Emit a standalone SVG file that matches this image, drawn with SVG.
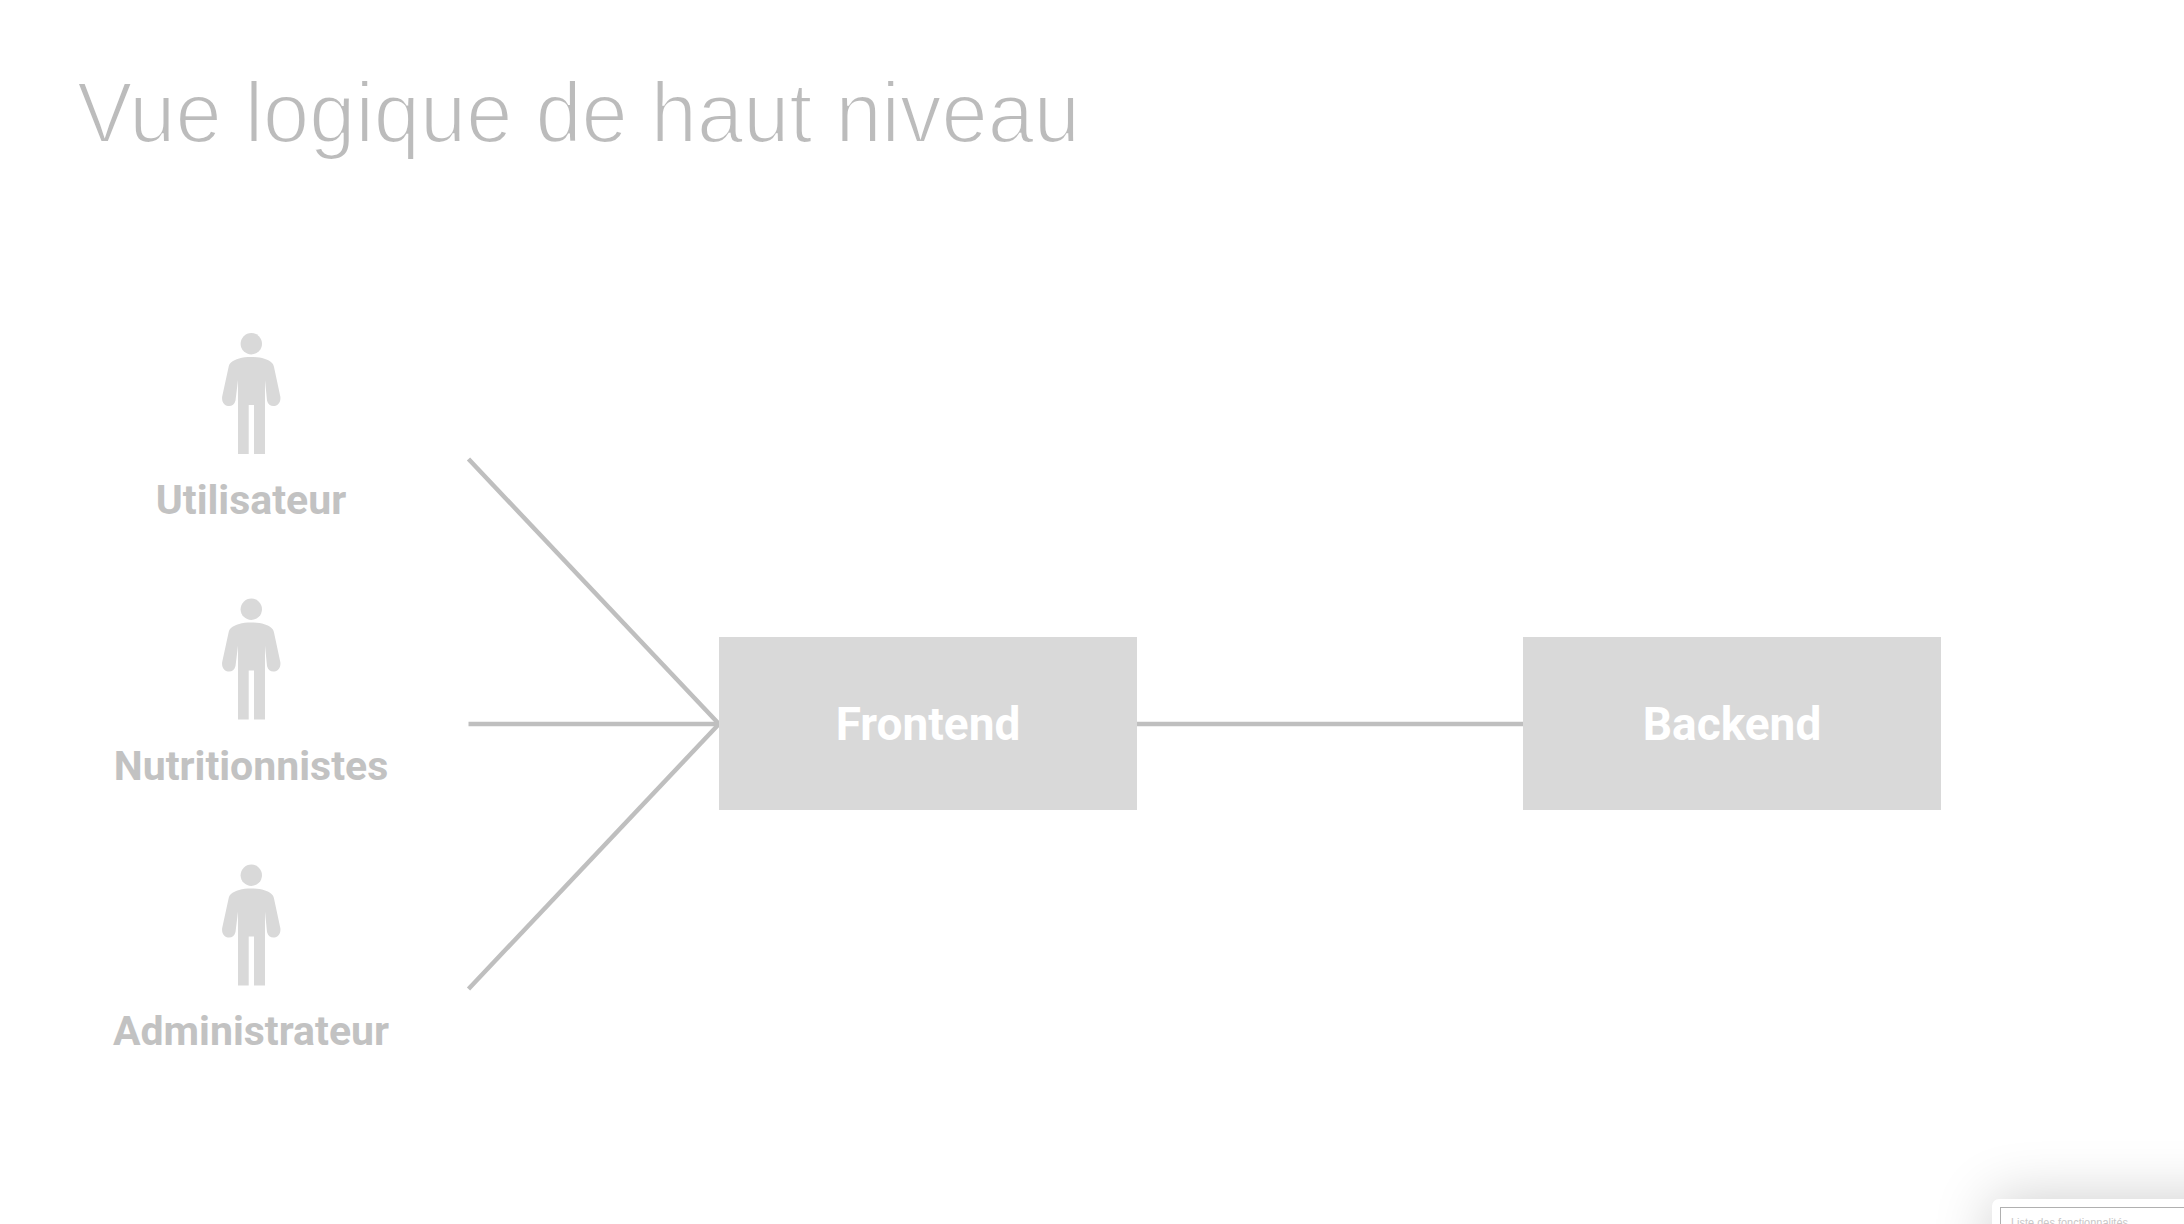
<svg xmlns="http://www.w3.org/2000/svg" width="2184" height="1224" viewBox="0 0 2184 1224">
<style>
.title{font-family:"Liberation Sans",Arial,sans-serif;font-size:85px;fill:#bcbcbc;stroke:#fff;stroke-width:2.2px}
.label{font-family:Roboto,"Liberation Sans",sans-serif;font-weight:700;font-size:41px;fill:#c2c2c2;text-anchor:middle}
.box{fill:#d9d9d9}
.boxtext{font-family:Roboto,"Liberation Sans",sans-serif;font-weight:700;font-size:46px;fill:#fff;text-anchor:middle}
.person{fill:#d9d9d9}
.conn{stroke:#bfbfbf;stroke-width:4.5;fill:none}
</style>
<defs>
<filter id="blur" x="-60%" y="-150%" width="220%" height="400%"><feGaussianBlur stdDeviation="30"/></filter>
<g id="figure">
<circle cx="251.3" cy="343.7" r="10.7"/>
<path d="M251.3 357C242 357 235 359 231 362.5C229.5 364 229 365 228.6 367L222.3 396C221.2 401 224 405.5 228 406C231.5 406.5 234.5 404.5 235.5 400.5L238 380V454H248.7V405H254V454H265V380L267 400.5C268 404.5 271 406.5 274.5 406C278.5 405.5 281.3 401 280.2 396L274 367C273.6 365 273 364 271.5 362.500C267.5 359 260.5 357 251.3 357Z"/>
</g>
</defs>
<rect width="2184" height="1224" fill="#fff"/>
<text class="title" x="77" y="142" textLength="1003" lengthAdjust="spacingAndGlyphs">Vue logique de haut niveau</text>
<g id="connectors">
<path class="conn" d="M468.500 459L719 724"/>
<path class="conn" d="M468.500 724H719"/>
<path class="conn" d="M468.500 989L719 724"/>
<path class="conn" d="M1137 724H1523"/>
</g>
<g id="utilisateur"><use href="#figure" class="person"/><text class="label" x="251" y="514">Utilisateur</text></g>
<g id="nutritionnistes"><use href="#figure" class="person" y="265.500"/><text class="label" x="251" y="780">Nutritionnistes</text></g>
<g id="administrateur"><use href="#figure" class="person" y="531.500"/><text class="label" x="251" y="1045">Administrateur</text></g>
<g id="frontend"><rect class="box" x="719" y="637" width="418" height="173"/><text class="boxtext" x="928" y="740">Frontend</text></g>
<g id="backend"><rect class="box" x="1523" y="637" width="418" height="173"/><text class="boxtext" x="1732" y="740">Backend</text></g>
<g id="card">
<rect x="1992" y="1199" width="280" height="120" fill="#000" opacity=".2" filter="url(#blur)"/>
<rect x="1992" y="1199" width="260" height="90" rx="7" fill="#fff"/>
<rect x="2000.500" y="1207.500" width="240" height="60" fill="none" stroke="#b0b0b0" stroke-width="1"/>
<text x="2011" y="1227" font-family="Liberation Sans,Arial,sans-serif" font-size="12" fill="#c8c8c8" textLength="117" lengthAdjust="spacingAndGlyphs">Liste des fonctionnalités</text>
</g>
</svg>
